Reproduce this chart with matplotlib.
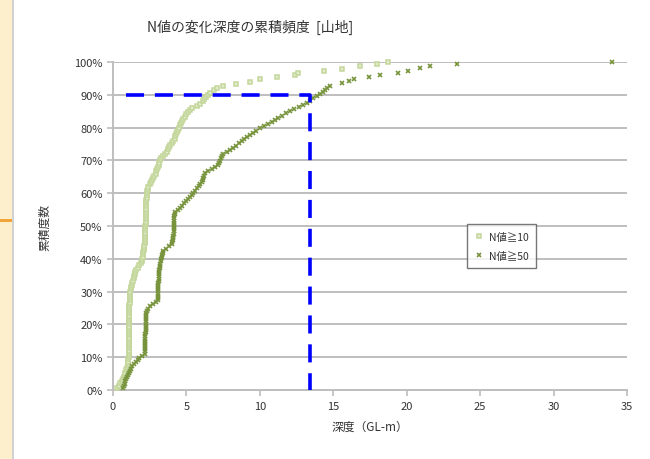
import numpy as np
import matplotlib
matplotlib.use("Agg")
import matplotlib.pyplot as plt
from matplotlib.patches import Rectangle
from matplotlib.lines import Line2D
from matplotlib.ticker import FuncFormatter

plt.rcParams['font.family'] = ['Noto Sans CJK JP', 'DejaVu Sans']

# 変化深度 (GL-m)  N値≧10
depth_n10 = [
    0.3, 0.4, 0.5, 0.6, 0.7, 0.75, 0.8,
    0.85, 0.9, 0.95, 1.0, 1.0, 1.05, 1.05, 1.1,
    1.1, 1.1, 1.1, 1.1, 1.1, 1.1, 1.1, 1.1, 1.1, 1.1, 1.1, 1.1, 1.1, 1.1, 1.1,
    1.1, 1.1, 1.1, 1.1, 1.1, 1.12, 1.12, 1.12, 1.12, 1.15, 1.15, 1.15, 1.15, 1.15, 1.15,
    1.2, 1.25, 1.3, 1.3, 1.35, 1.4, 1.45, 1.5, 1.5,
    1.6, 1.7, 1.8, 1.9,
    2.0, 2.0, 2.05, 2.05, 2.05, 2.1, 2.1, 2.1, 2.15, 2.15, 2.15, 2.2,
    2.2, 2.2, 2.2, 2.2, 2.2, 2.22, 2.22, 2.22, 2.22, 2.25, 2.25, 2.25, 2.25, 2.25,
    2.28, 2.28, 2.28, 2.3, 2.3, 2.3, 2.3,
    2.35, 2.4, 2.5, 2.6, 2.65, 2.7, 2.8, 2.9,
    2.95, 3.0, 3.05, 3.1, 3.15, 3.2, 3.3,
    3.4, 3.55, 3.7,
    3.75, 3.8, 3.9, 4.0, 4.1, 4.2,
    4.25, 4.3, 4.35, 4.4, 4.5, 4.55, 4.6, 4.7,
    4.8, 4.9, 5.0, 5.1, 5.25, 5.4,
    5.7, 5.9, 6.1,
    6.2, 6.3, 6.45, 6.6,
    6.9, 7.1, 7.5, 8.4, 9.3, 10.0, 11.2, 12.4, 12.6, 14.4, 15.6, 16.8, 18.0, 18.7,
]

# 変化深度 (GL-m)  N値≧50
depth_n50 = [
    0.7, 0.75, 0.8, 0.85, 0.9, 0.95, 1.05,
    1.1, 1.15, 1.2, 1.27,
    1.4, 1.55, 1.7, 1.8,
    1.95, 2.15,
    2.18, 2.18, 2.19, 2.19, 2.2, 2.2, 2.2, 2.21, 2.21, 2.22, 2.22, 2.23, 2.23, 2.24,
    2.25, 2.25, 2.26, 2.27, 2.28, 2.29,
    2.4, 2.55, 2.7, 2.9, 3.04,
    3.04, 3.05, 3.05, 3.06, 3.06, 3.07, 3.08, 3.08, 3.1, 3.11, 3.12, 3.13, 3.15,
    3.16, 3.18, 3.2,
    3.22, 3.25, 3.28, 3.32, 3.36, 3.4, 3.43,
    3.6, 3.8, 4.0,
    4.05, 4.08, 4.1, 4.1, 4.12, 4.12, 4.13, 4.14, 4.15, 4.15, 4.16, 4.17, 4.18, 4.2, 4.22,
    4.4, 4.56, 4.7, 4.85, 5.0, 5.13,
    5.25, 5.35, 5.47, 5.55,
    5.7, 5.85, 5.95, 6.04,
    6.1, 6.15, 6.2, 6.26,
    6.5, 6.75, 6.94,
    7.17,
    7.25, 7.3, 7.35, 7.45, 7.51,
    7.75, 7.95, 8.19,
    8.4, 8.6, 8.8, 8.95, 9.1,
    9.3, 9.5, 9.75, 10.0,
    10.3, 10.55, 10.8, 11.0, 11.25,
    11.5, 11.8, 12.05,
    12.35, 12.65, 12.95,
    13.2, 13.4,
    13.6, 13.87, 14.1,
    14.3, 14.45, 14.6,
    14.8, 15.6, 16.1, 16.4, 17.4, 18.2, 19.4, 20.1, 20.9, 21.6, 23.4, 34.0,
]

# 90%位置の深度
depth_90 = 13.4
level_90 = 0.90

x_ticks = [0, 5, 10, 15, 20, 25, 30, 35]
y_ticks = [0.0, 0.1, 0.2, 0.3, 0.4, 0.5, 0.6, 0.7, 0.8, 0.9, 1.0]

LIGHT = '#C3D69B'
LIGHT_FACE = '#E2ECCD'
DARK = '#77933C'


def cumfreq(depths):
    d = np.sort(np.asarray(depths, dtype=float))
    return d, np.arange(1, len(d) + 1) / len(d)


fig = plt.figure(figsize=(6.5, 4.6), dpi=100)
fig.patch.set_facecolor('white')

# 左側の帯
fig.patches.append(Rectangle((0, 0), 12 / 650, 1, transform=fig.transFigure,
                             facecolor='#FDEFCB', edgecolor='none', zorder=0))
fig.patches.append(Rectangle((0, 1 - 223 / 460), 12 / 650, 3 / 460, transform=fig.transFigure,
                             facecolor='#F2A33A', edgecolor='none', zorder=1))
fig.lines.append(Line2D([12.5 / 650, 12.5 / 650], [0, 1], transform=fig.transFigure,
                        color='#C8C8C8', lw=1.2))

ax = fig.add_axes([113 / 650, 1 - 391 / 460, 514 / 650, 328 / 460])

x10, y10 = cumfreq(depth_n10)
x50, y50 = cumfreq(depth_n50)

ax.plot(x10, y10, ls='none', marker='s', ms=3.4, mfc=LIGHT_FACE, mec=LIGHT, mew=1.1,
        label='N値≧10', zorder=3, clip_on=False)
ax.plot(x50, y50, ls='none', marker='x', ms=3.4, color=DARK, mew=1.2,
        label='N値≧50', zorder=4, clip_on=False)

# 90%ライン
ax.plot([0.9, depth_90, depth_90], [level_90, level_90, 0], color='#0000FF', lw=2.6,
        dashes=(5, 3), zorder=5, solid_capstyle='butt', dash_capstyle='butt')

ax.set_xlim(0, 35)
ax.set_ylim(0, 1)
ax.set_xticks(x_ticks)
ax.set_yticks(y_ticks)
ax.yaxis.set_major_formatter(FuncFormatter(lambda v, p: f'{v * 100:.0f}%'))
ax.grid(axis='y', color='#BEBEBE', lw=1.4, zorder=0)
ax.set_axisbelow(True)
for s in ['top', 'right']:
    ax.spines[s].set_visible(False)
ax.spines['left'].set_color('#BEBEBE')
ax.spines['left'].set_linewidth(1.4)
ax.spines['bottom'].set_color('#BEBEBE')
ax.spines['bottom'].set_linewidth(1.4)
ax.tick_params(axis='both', colors='#BEBEBE', length=4, width=1.2, labelsize=8,
               labelcolor='#333333')
ax.tick_params(axis='x', pad=4)

ax.set_xlabel('深度（GL-m）', fontsize=8.5, color='#333333', labelpad=6)
fig.text(45 / 650, 1 - 228 / 460, '累積度数', rotation=90, fontsize=8.5, color='#333333',
         ha='center', va='center')
fig.text(250 / 650, 1 - 27 / 460, 'N値の変化深度の累積頻度  [山地]', fontsize=10,
         color='#333333', ha='center', va='center')

leg = ax.legend(loc='upper left', bbox_to_anchor=((462 - 113) / 514, (391 - 220) / 328),
                frameon=True, fancybox=False, fontsize=7.5, handlelength=0.8,
                handletextpad=0.6, borderpad=0.7, labelspacing=0.9, markerscale=0.9)
leg.get_frame().set_edgecolor('#555555')
leg.get_frame().set_linewidth(1.0)
for t in leg.get_texts():
    t.set_color('#333333')

fig.savefig('out.png', dpi=100, facecolor='white')
